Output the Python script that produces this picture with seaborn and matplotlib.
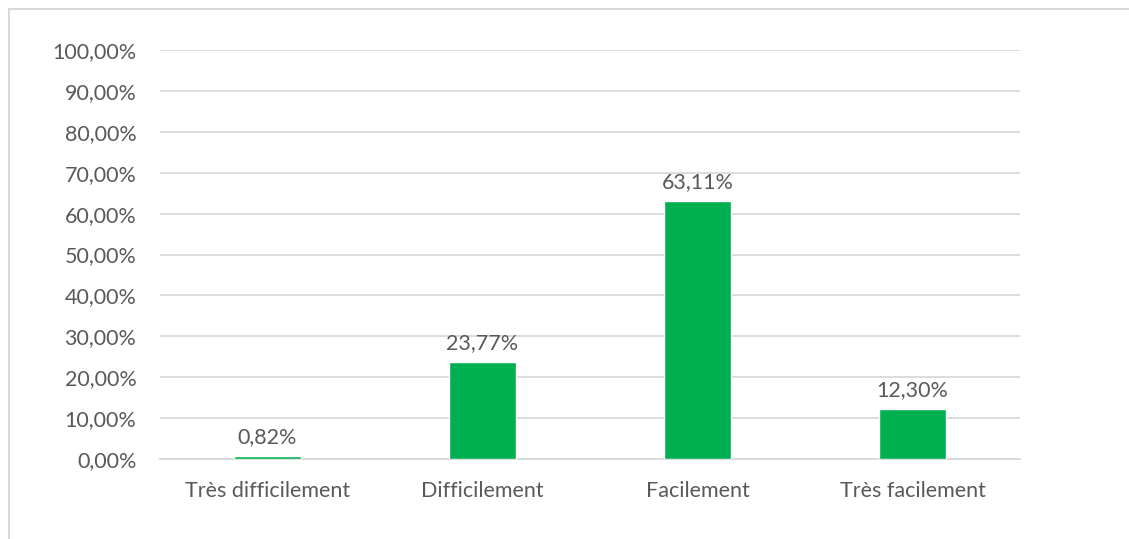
import numpy as np
import pandas as pd
import matplotlib.pyplot as plt
import matplotlib as mpl
import seaborn as sns

## ============================

categories = ['Très difficilement', 'Difficilement', 'Facilement', 'Très facilement']
values = [0.82, 23.77, 63.11, 12.30]
yticks = np.arange(0, 101, 10)

df = pd.DataFrame({'cat': categories, 'val': values})

## ============================

sns.set_theme(style='white')
plt.rcParams['font.family'] = ['Lato', 'DejaVu Sans']
txt = '#595959'
grid = '#d9d9d9'
fs = 15.5

fig = plt.figure(figsize=(11.29, 5.39), dpi=100)
ax = fig.add_axes([160/1129, 1-459/539, 860/1129, 409/539])

sns.barplot(ax=ax, data=df, x='cat', y='val', color='#00b050', width=0.316,
            saturation=1, zorder=3)

ax.set_ylim(0, 100)
ax.set_xlim(-0.5, 3.5)
ax.set_yticks(yticks)
ax.set_yticklabels(['{0:.2f}%'.format(v).replace('.', ',') for v in yticks])
ax.yaxis.grid(True, color=grid, lw=1.3, zorder=0)
ax.set_axisbelow(True)
for s in ['top', 'right', 'left']:
	ax.spines[s].set_visible(False)
ax.spines['bottom'].set_color(grid)
ax.spines['bottom'].set_linewidth(1.3)
ax.tick_params(axis='both', length=0, colors=txt, labelsize=fs)
ax.tick_params(axis='y', pad=17)
ax.tick_params(axis='x', pad=16)
ax.set_xlabel('')
ax.set_ylabel('')

for i, v in enumerate(values):
	ax.annotate('{0:.2f}%'.format(v).replace('.', ','), (i, v), xytext=(0, 6),
	            textcoords='offset points', ha='center', va='bottom',
	            color=txt, fontsize=fs)

# chart border
fig.add_artist(mpl.lines.Line2D([8.5/1129, 8.5/1129], [0, 1-8.5/539],
               transform=fig.transFigure, color=grid, lw=1.5))
fig.add_artist(mpl.lines.Line2D([8.5/1129, 1], [1-8.5/539, 1-8.5/539],
               transform=fig.transFigure, color=grid, lw=1.5))

fig.savefig('out.png', dpi=100)
